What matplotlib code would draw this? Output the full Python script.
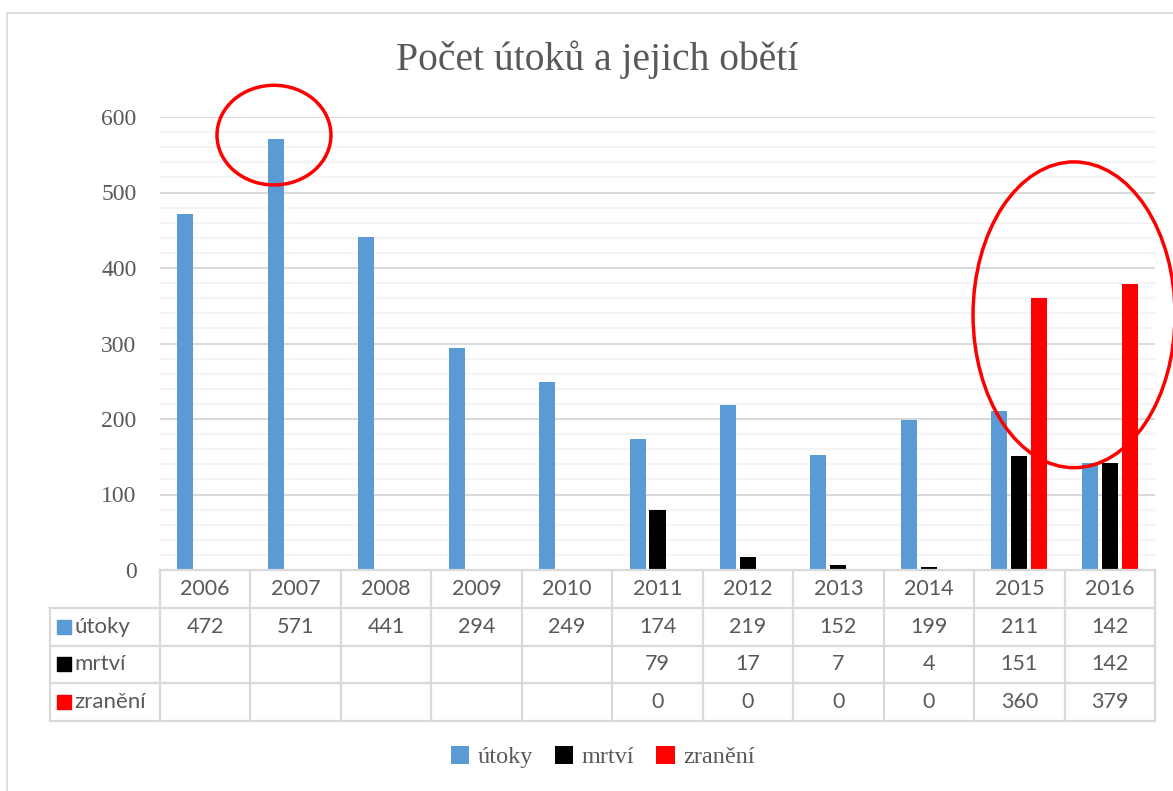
import numpy as np
import matplotlib
matplotlib.use("Agg")
import matplotlib.pyplot as plt
from matplotlib.patches import Ellipse, Rectangle, Patch

# data
years = ["2006", "2007", "2008", "2009", "2010", "2011", "2012", "2013", "2014", "2015", "2016"]
utoky = [472, 571, 441, 294, 249, 174, 219, 152, 199, 211, 142]
mrtvi = [np.nan, np.nan, np.nan, np.nan, np.nan, 79, 17, 7, 4, 151, 142]
zraneni = [np.nan, np.nan, np.nan, np.nan, np.nan, 0, 0, 0, 0, 360, 379]

series_names = ["útoky", "mrtví", "zranění"]
series_vals = [utoky, mrtvi, zraneni]
colors = ["#5B9BD5", "#000000", "#FF0000"]

W, H = 1173, 791
grey_txt = "#595959"
grid_major = "#d9d9d9"
grid_minor = "#f2f2f2"
serif = "Liberation Serif"
sans = "Lato"

fig = plt.figure(figsize=(W / 100, H / 100), dpi=100)

# chart border (cut off at right/bottom like the screenshot)
fig.patches.append(Rectangle((7 / W, -0.1), 1.2, 1 - 13 / H + 0.1, transform=fig.transFigure,
                             fill=False, edgecolor=grid_major, lw=1.2))

# plot area
px_left, px_right, px_top, px_zero = 160, 1155, 117, 570
ax = fig.add_axes([px_left / W, 1 - px_zero / H, (px_right - px_left) / W, (px_zero - px_top) / H])
ax.set_xlim(-0.5, 10.5)
ax.set_ylim(0, 600)

x = np.arange(len(years))
bw = 0.177
offs = [-0.221, 0, 0.221]
for vals, off, c in zip(series_vals, offs, colors):
    ax.bar(x + off, vals, bw, color=c, zorder=3)

ax.set_yticks(np.arange(0, 601, 100))
ax.set_yticks(np.arange(0, 601, 20), minor=True)
ax.grid(axis="y", which="minor", color=grid_minor, lw=1.2, zorder=0)
ax.grid(axis="y", which="major", color=grid_major, lw=1.4, zorder=1)
ax.tick_params(axis="y", which="both", length=0, pad=17, labelsize=17, labelcolor=grey_txt)
for lab in ax.get_yticklabels():
    lab.set_fontfamily(serif)
ax.set_xticks([])
for s in ax.spines.values():
    s.set_visible(False)

# red highlight ellipses
ax.add_patch(Ellipse((0.76, 576), 1.26, 132, fill=False, edgecolor="#FF0000", lw=2.5,
                     clip_on=False, zorder=5))
ax.add_patch(Ellipse((9.605, 338), 2.233, 405, fill=False, edgecolor="#FF0000", lw=2.5,
                     clip_on=False, zorder=5))

# title
fig.text(597 / W, 1 - 60 / H, "Počet útoků a jejich obětí", ha="center", va="center",
         fontsize=28.5, color=grey_txt, fontfamily=serif)

# data table under the plot
tab_left, tab_bottom = 50, 721
ax_t = fig.add_axes([tab_left / W, 1 - tab_bottom / H, (px_right - tab_left) / W, (tab_bottom - px_zero) / H])
x_lab = -0.5 - (px_left - tab_left) / 90.45
ax_t.set_xlim(x_lab, 10.5)
ax_t.set_ylim(4, 0)
ax_t.axis("off")

lc = grid_major
ax_t.plot([-0.5, 10.5], [0, 0], color=lc, lw=1.6, clip_on=False)
for r in range(1, 5):
    ax_t.plot([x_lab, 10.5], [r, r], color=lc, lw=1.6, clip_on=False)
for i in range(12):
    ax_t.plot([i - 0.5, i - 0.5], [0, 4], color=lc, lw=1.6, clip_on=False)
ax_t.plot([x_lab, x_lab], [1, 4], color=lc, lw=1.6, clip_on=False)

for i, yr in enumerate(years):
    ax_t.text(i, 0.5, yr, ha="center", va="center", fontsize=15.5, color=grey_txt, fontfamily=sans)

for r, (name, vals, c) in enumerate(zip(series_names, series_vals, colors), start=1):
    ax_t.plot([x_lab + 0.15], [r + 0.5], marker="s", ms=10, color=c, clip_on=False)
    ax_t.text(x_lab + 0.27, r + 0.5, name, ha="left", va="center", fontsize=16,
              color=grey_txt, fontfamily=sans)
    for i, v in enumerate(vals):
        if not np.isnan(v):
            ax_t.text(i, r + 0.5, f"{int(v)}", ha="center", va="center", fontsize=15.5,
                      color=grey_txt, fontfamily=sans)

# legend
handles = [Patch(facecolor=c, edgecolor="none") for c in colors]
fig.legend(handles, series_names, loc="center", bbox_to_anchor=(603 / W, 1 - 757 / H), ncol=3,
           frameon=False, handlelength=0.75, handleheight=0.75, handletextpad=0.35,
           columnspacing=0.9, prop={"family": serif, "size": 17.5}, labelcolor=grey_txt)

plt.savefig("out.png", dpi=100)
